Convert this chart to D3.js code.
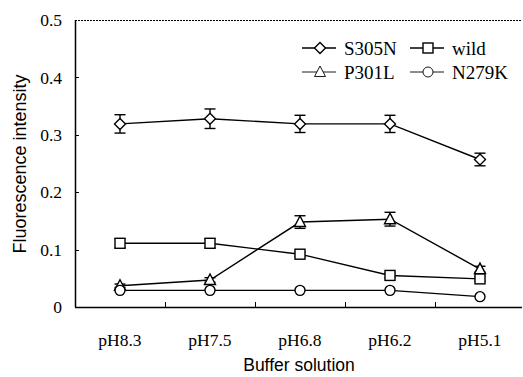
<!DOCTYPE html>
<html>
<head>
<meta charset="utf-8">
<script src="https://cdn.jsdelivr.net/npm/d3@7"></script>
<style>
  body { margin: 0; background: #fff; }
</style>
</head>
<body>
<div class="canvas"></div>
<script>
'use strict';

var CATEGORIES = ['pH8.3', 'pH7.5', 'pH6.8', 'pH6.2', 'pH5.1'];
var Y_TICKS = [0, 0.1, 0.2, 0.3, 0.4, 0.5];
var Y_TICK_LABELS = ['0', '0.1', '0.2', '0.3', '0.4', '0.5'];

var S305N = [0.319, 0.328, 0.319, 0.319, 0.257];
var S305N_ERR = [0.016, 0.017, 0.015, 0.015, 0.011];
var WILD = [0.111, 0.111, 0.092, 0.055, 0.049];
var WILD_ERR = [0.008, 0.008, 0.004, 0.004, 0.004];
var P301L = [0.037, 0.047, 0.148, 0.153, 0.066];
var P301L_ERR = [0.003, 0.004, 0.011, 0.012, 0.005];
var N279K = [0.029, 0.029, 0.029, 0.029, 0.018];
var N279K_ERR = [0, 0, 0, 0, 0];

var SERIES_NAMES = ['S305N', 'wild', 'P301L', 'N279K'];
var SERIES_SHAPES = ['diamond', 'square', 'triangle', 'circle'];

var SERIF = '"Liberation Serif", "Times New Roman", Times, "DejaVu Serif", serif';
var SANS = '"Liberation Sans", Arial, Helvetica, sans-serif';

var series = [
  { name: SERIES_NAMES[0], shape: SERIES_SHAPES[0], values: S305N, errs: S305N_ERR },
  { name: SERIES_NAMES[1], shape: SERIES_SHAPES[1], values: WILD, errs: WILD_ERR },
  { name: SERIES_NAMES[2], shape: SERIES_SHAPES[2], values: P301L, errs: P301L_ERR },
  { name: SERIES_NAMES[3], shape: SERIES_SHAPES[3], values: N279K, errs: N279K_ERR }
];

var W = 523, H = 377;
var plot = { left: 75, right: 522, top: 20, bottom: 307 };

var svg = d3.select('.canvas').append('svg')
  .attr('width', W)
  .attr('height', H);

var x = d3.scaleBand()
  .domain(CATEGORIES)
  .range([plot.left, plot.right + 3]);
var y = d3.scaleLinear()
  .domain([0, 0.5])
  .range([plot.bottom, plot.top]);

function cx(c) { return x(c) + x.bandwidth() / 2; }

// top dotted border
svg.append('line')
  .attr('x1', plot.left).attr('x2', plot.right)
  .attr('y1', plot.top + 0.5).attr('y2', plot.top + 0.5)
  .attr('stroke', '#000')
  .attr('stroke-width', 1)
  .attr('stroke-dasharray', '2,1');

// axes lines
svg.append('line')
  .attr('x1', plot.left + 0.5).attr('x2', plot.left + 0.5)
  .attr('y1', plot.top).attr('y2', plot.bottom)
  .attr('stroke', '#000').attr('stroke-width', 1.5);
svg.append('line')
  .attr('x1', plot.left).attr('x2', plot.right)
  .attr('y1', plot.bottom + 0.5).attr('y2', plot.bottom + 0.5)
  .attr('stroke', '#000').attr('stroke-width', 1.5);

// y ticks (inside)
svg.selectAll('line.ytick')
  .data(Y_TICKS.slice(1, 5))
  .enter()
  .append('line')
  .attr('x1', plot.left).attr('x2', plot.left + 4)
  .attr('y1', function(d) { return Math.round(y(d)) + 0.5; })
  .attr('y2', function(d) { return Math.round(y(d)) + 0.5; })
  .attr('stroke', '#000');

svg.selectAll('text.ylab')
  .data(Y_TICKS)
  .enter()
  .append('text')
  .attr('font-family', SERIF)
  .attr('font-size', 17.5)
  .attr('x', 62)
  .attr('y', function(d) { return y(d); })
  .attr('dy', '0.35em')
  .attr('text-anchor', 'end')
  .text(function(d, i) { return Y_TICK_LABELS[i]; });

// x ticks between categories (inside)
svg.selectAll('line.xtick')
  .data(CATEGORIES.slice(1))
  .enter()
  .append('line')
  .attr('x1', function(d) { return Math.round(x(d)) + 0.5; })
  .attr('x2', function(d) { return Math.round(x(d)) + 0.5; })
  .attr('y1', plot.bottom).attr('y2', plot.bottom - 5)
  .attr('stroke', '#000');

svg.selectAll('text.xlab')
  .data(CATEGORIES)
  .enter()
  .append('text')
  .attr('font-family', SERIF)
  .attr('font-size', 17.5)
  .attr('x', cx)
  .attr('y', 346)
  .attr('text-anchor', 'middle')
  .text(function(d) { return d; });

// axis titles
svg.append('text')
  .attr('font-family', SANS)
  .attr('font-size', 18)
  .attr('transform', 'translate(26,164) rotate(-90)')
  .attr('text-anchor', 'middle')
  .text('Fluorescence intensity');
svg.append('text')
  .attr('font-family', SANS)
  .attr('font-size', 17.5)
  .attr('x', 299)
  .attr('y', 371)
  .attr('text-anchor', 'middle')
  .text('Buffer solution');

function drawMarker(g, shape, px, py) {
  if (shape === 'diamond') {
    g.append('path')
      .attr('d', 'M' + px + ',' + (py - 5.5) + 'L' + (px + 5.5) + ',' + py + 'L' + px + ',' + (py + 5.5) + 'L' + (px - 5.5) + ',' + py + 'Z');
  } else if (shape === 'square') {
    g.append('rect')
      .attr('x', px - 5).attr('y', py - 5)
      .attr('width', 10).attr('height', 10);
  } else if (shape === 'triangle') {
    g.append('path')
      .attr('d', 'M' + px + ',' + (py - 6) + 'L' + (px + 5.5) + ',' + (py + 4.5) + 'L' + (px - 5.5) + ',' + (py + 4.5) + 'Z');
  } else {
    g.append('circle')
      .attr('cx', px).attr('cy', py).attr('r', 5);
  }
}

var line = d3.line()
  .x(function(d, i) { return cx(CATEGORIES[i]); })
  .y(function(d) { return y(d); });

series.forEach(function(s) {
  var g = svg.append('g')
    .attr('fill', '#fff')
    .attr('stroke', '#000')
    .attr('stroke-width', 1.4);

  g.append('path')
    .attr('d', line(s.values))
    .attr('fill', 'none');

  // error bars
  s.values.forEach(function(v, i) {
    var e = s.errs[i];
    if (!e) return;
    var px = cx(CATEGORIES[i]);
    g.append('line')
      .attr('x1', px).attr('x2', px)
      .attr('y1', y(v + e)).attr('y2', y(v - e));
    [v + e, v - e].forEach(function(yy) {
      g.append('line')
        .attr('x1', px - 5.5).attr('x2', px + 5.5)
        .attr('y1', y(yy)).attr('y2', y(yy));
    });
  });

  s.values.forEach(function(v, i) {
    drawMarker(g, s.shape, cx(CATEGORIES[i]), y(v));
  });
});

// legend
var legendPos = [[302, 48], [410, 48], [302, 72], [410, 72]];
series.forEach(function(s, i) {
  var lx = legendPos[i][0], ly = legendPos[i][1];
  var g = svg.append('g')
    .attr('fill', '#fff')
    .attr('stroke', '#000')
    .attr('stroke-width', i < 2 ? 1.4 : 0.9);
  g.append('line')
    .attr('x1', lx).attr('x2', lx + 34)
    .attr('y1', ly).attr('y2', ly);
  drawMarker(g, s.shape, lx + 18, ly);
  svg.append('text')
    .attr('font-family', SERIF)
    .attr('font-size', 19)
    .attr('x', lx + 42)
    .attr('y', ly)
    .attr('dy', '0.35em')
    .text(s.name);
});
</script>
</body>
</html>
